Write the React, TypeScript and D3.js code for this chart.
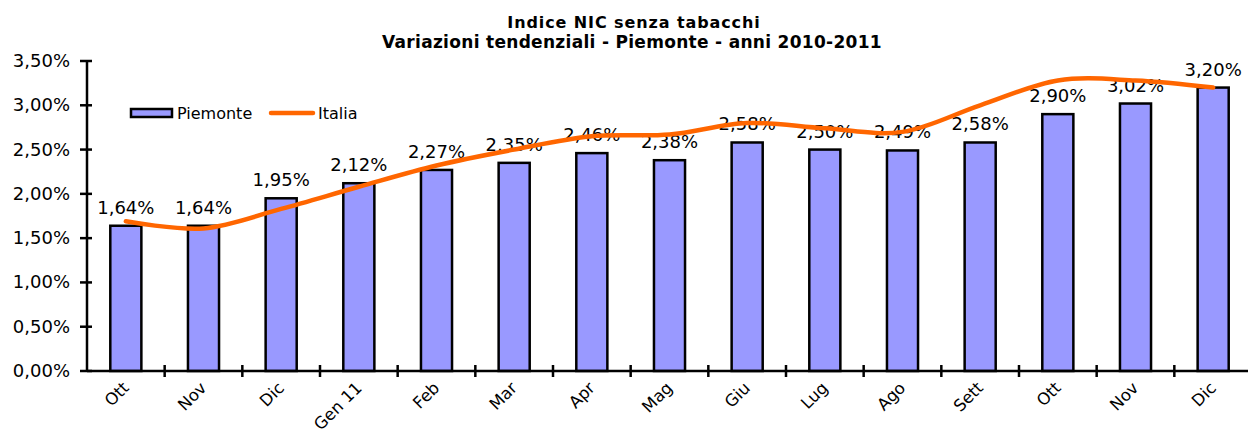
import * as d3 from 'd3';

const categories = ['Ott', 'Nov', 'Dic', 'Gen 11', 'Feb', 'Mar', 'Apr', 'Mag', 'Giu', 'Lug', 'Ago', 'Sett', 'Ott', 'Nov', 'Dic'];
const piemonte = [1.64, 1.64, 1.95, 2.12, 2.27, 2.35, 2.46, 2.38, 2.58, 2.50, 2.49, 2.58, 2.90, 3.02, 3.20];
const italia = [1.69, 1.61, 1.83, 2.08, 2.32, 2.5, 2.65, 2.67, 2.8, 2.74, 2.7, 3.0, 3.28, 3.28, 3.2];
const yTicks = [0, 0.5, 1, 1.5, 2, 2.5, 3, 3.5];

const W = 1248;
const H = 434;
const FONT = '"DejaVu Sans", Verdana, sans-serif';

const fmt = (v: number) => v.toFixed(2).replace('.', ',') + '%';

export default function App() {
  const x = d3.scaleBand<number>()
    .domain(categories.map((_, i) => i))
    .range([87, 1252])
    .paddingInner(0)
    .paddingOuter(0);
  const y = d3.scaleLinear().domain([0, 3.5]).range([371, 61]);

  const bw = x.bandwidth();
  const barW = bw * 0.4;
  const cx = (i: number) => (x(i) ?? 0) + bw / 2;

  const line = d3.line<number>()
    .x((_, i) => cx(i))
    .y(d => y(d))
    .curve(d3.curveCatmullRom.alpha(0));

  return (
    <svg width={W} height={H} style={{ position: 'absolute', left: 0, top: 0, background: '#fff' }} fontFamily={FONT}>
      {/* title */}
      <text x={634} y={28} textAnchor="middle" fontSize={16} fontWeight="bold" letterSpacing={0.9}>Indice NIC senza tabacchi</text>
      <text x={632} y={48} textAnchor="middle" fontSize={17} fontWeight="bold" letterSpacing={0.3}>Variazioni tendenziali - Piemonte - anni 2010-2011</text>

      {/* bars */}
      {piemonte.map((v, i) => (
        <rect key={i} x={cx(i) - barW / 2} y={y(v)} width={barW} height={y(0) - y(v)}
          fill="#9999ff" stroke="#000" strokeWidth={2.5} />
      ))}

      {/* y axis */}
      <line x1={87} x2={87} y1={y(3.5)} y2={y(0)} stroke="#000" strokeWidth={2.5} />
      {yTicks.map(t => (
        <g key={t}>
          <line x1={80} x2={92} y1={y(t)} y2={y(t)} stroke="#000" strokeWidth={2.5} />
          <text x={70} y={y(t) + 6} textAnchor="end" fontSize={18}>{fmt(t)}</text>
        </g>
      ))}

      {/* x axis */}
      <line x1={87} x2={W} y1={y(0)} y2={y(0)} stroke="#000" strokeWidth={2.5} />
      {categories.slice(1).map((_, k) => (
        <line key={k} x1={x(k + 1)} x2={x(k + 1)} y1={y(0) - 6} y2={y(0) + 6} stroke="#000" strokeWidth={2.5} />
      ))}
      {categories.map((c, i) => (
        <text key={i} transform={`translate(${cx(i) + 4},${y(0) + 18}) rotate(-45)`} textAnchor="end" fontSize={16.5}>{c}</text>
      ))}

      {/* data labels */}
      {piemonte.map((v, i) => (
        <text key={i} x={cx(i)} y={y(v) - 12} textAnchor="middle" fontSize={18}>{fmt(v)}</text>
      ))}

      {/* italia line */}
      <path d={line(italia) ?? ''} fill="none" stroke="#ff6600" strokeWidth={4.5} strokeLinecap="round" />

      {/* legend */}
      <rect x={131} y={109} width={41} height={8} fill="#9999ff" stroke="#000" strokeWidth={2.5} />
      <text x={177} y={119} fontSize={16}>Piemonte</text>
      <line x1={271} x2={313} y1={113} y2={113} stroke="#ff6600" strokeWidth={4.5} strokeLinecap="round" />
      <text x={318} y={119} fontSize={16}>Italia</text>
    </svg>
  );
}
